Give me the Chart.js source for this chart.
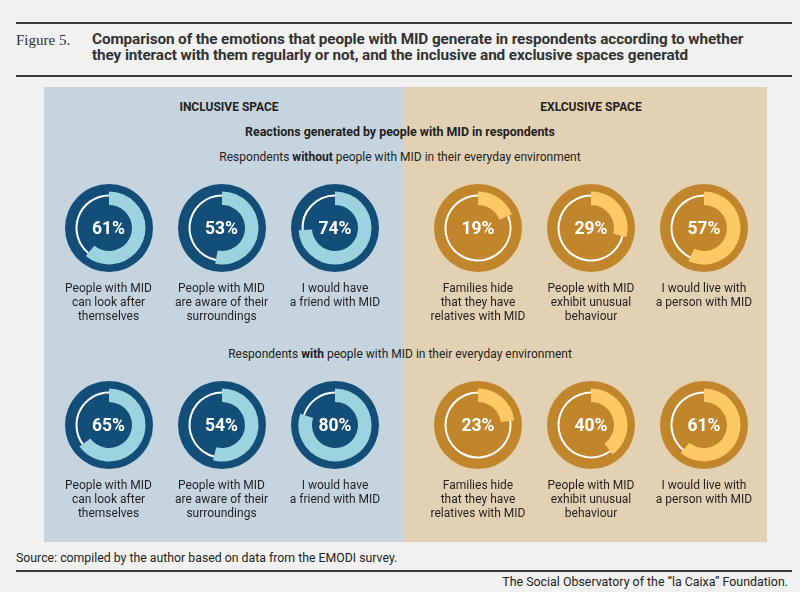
<!DOCTYPE html>
<html>
<head>
<meta charset="utf-8">
<script src="https://cdn.jsdelivr.net/npm/chart.js@4.4.1/dist/chart.umd.min.js"></script>
<style>
  body { margin: 0; background: #f1f1f1; }
  #page { position: relative; width: 800px; height: 592px; overflow: hidden; font-family: Roboto, sans-serif; color: #231f20; }
  .abs { position: absolute; white-space: nowrap; }
  .rule { position: absolute; left: 16px; width: 776px; height: 2px; background: #3a3a3a; }
  .panel { position: absolute; top: 87px; height: 455px; }
  .ctr { position: absolute; transform: translateX(-50%); text-align: center; white-space: nowrap; }
  .donut { position: absolute; width: 88px; height: 88px; border-radius: 50%; }
  .donut canvas { position: absolute; left: 0; top: 0; }
  .pct { position: absolute; left: 0; top: 0; width: 88px; height: 88px; line-height: 88px; text-align: center; color: #fff; font-weight: bold; font-size: 17.5px; }
  .lbl { font-size: 12px; line-height: 14px; }
</style>
</head>
<body>
<div id="page">
  <div class="rule" style="top:22px"></div>
  <div class="abs" style="left:16px;top:31px;font-family:'Liberation Serif',serif;font-size:15px;line-height:18px;color:#333">Figure 5.</div>
  <div class="abs" style="left:92px;top:31px;font-weight:bold;font-size:15.3px;line-height:16px;color:#333;letter-spacing:-0.1px">Comparison of the emotions that people with MID generate in respondents according to whether<br>they interact with them regularly or not, and the inclusive and exclusive spaces generatd</div>
  <div class="rule" style="top:75px"></div>

  <div class="panel" style="left:44px;width:359px;background:#c5d4df"></div>
  <div class="panel" style="left:403px;width:364px;background:#e3d1b3"></div>

  <div class="ctr" style="left:229px;top:99px;font-weight:bold;font-size:12px;line-height:16px">INCLUSIVE SPACE</div>
  <div class="ctr" style="left:591px;top:99px;font-weight:bold;font-size:12px;line-height:16px">EXLCUSIVE SPACE</div>
  <div class="ctr" style="left:400px;top:124px;font-weight:bold;font-size:12.4px;line-height:16px">Reactions generated by people with MID in respondents</div>
  <div class="ctr" style="left:400px;top:149px;font-size:12px;line-height:16px">Respondents <b>without</b> people with MID in their everyday environment</div>
  <div class="ctr" style="left:400px;top:346px;font-size:12px;line-height:16px">Respondents <b>with</b> people with MID in their everyday environment</div>

  <div id="donuts"></div>

  <div class="abs" style="left:16px;top:550px;font-size:12.3px;line-height:16px">Source: compiled by the author based on data from the EMODI survey.</div>
  <div class="rule" style="top:570px"></div>
  <div class="abs" style="right:12px;top:574px;font-size:12.4px;line-height:16px">The Social Observatory of the “la Caixa” Foundation.</div>
</div>

<script>
// statements shown under each donut
var inclusiveItems = ['People with MID\ncan look after\nthemselves', 'People with MID\nare aware of their\nsurroundings', 'I would have\na friend with MID'];
var exclusiveItems = ['Families hide\nthat they have\nrelatives with MID', 'People with MID\nexhibit unusual\nbehaviour', 'I would live with\na person with MID'];

// % of respondents agreeing
var withoutValues = [61, 53, 74, 19, 29, 57];
var withValues = [65, 54, 80, 23, 40, 61];

var items = inclusiveItems.concat(exclusiveItems);

var colX = [108.5, 221.5, 335, 478, 591, 704];
var rowY = [228, 425];

var blue = { dark: '#134e78', light: '#9dd3df' };
var gold = { dark: '#c1862b', light: '#fdc964' };

var holder = document.getElementById('donuts');
var clear = 'rgba(0,0,0,0)';

// ring: outer radius and inner radius in px (cutout is relative to radius)
function anillo(canvas, valor, colores, rOut, rIn) {
  return new Chart(canvas, {
    type: 'doughnut',
    data: {
      labels: ['yes', 'rest'],
      datasets: [{ data: [valor, 100 - valor], backgroundColor: colores, borderWidth: 0 }]
    },
    options: {
      responsive: false,
      animation: false,
      events: [],
      radius: rOut,
      cutout: (rIn / rOut * 100) + '%',
      layout: { padding: 0 },
      plugins: { legend: { display: false }, tooltip: { enabled: false } }
    }
  });
}

function crearDonut(valor, etiqueta, cx, cy, pal) {
  var div = document.createElement('div');
  div.className = 'donut';
  div.style.left = (cx - 44) + 'px';
  div.style.top = (cy - 44) + 'px';
  div.style.background = pal.dark;
  var c1 = document.createElement('canvas');
  c1.width = 88; c1.height = 88;
  var c2 = document.createElement('canvas');
  c2.width = 88; c2.height = 88;
  div.appendChild(c1);
  div.appendChild(c2);
  var pct = document.createElement('div');
  pct.className = 'pct';
  pct.textContent = valor + '%';
  div.appendChild(pct);
  holder.appendChild(div);

  anillo(c1, valor, [pal.light, clear], 36.5, 23);
  anillo(c2, valor, [clear, '#ffffff'], 33.5, 31.5);

  var lbl = document.createElement('div');
  lbl.className = 'ctr lbl';
  lbl.style.left = cx + 'px';
  lbl.style.top = (cy + 53) + 'px';
  lbl.innerHTML = etiqueta.split('\n').join('<br>');
  document.getElementById('page').appendChild(lbl);
}

for (var i = 0; i < 6; i++) {
  var pal = i < 3 ? blue : gold;
  crearDonut(withoutValues[i], items[i], colX[i], rowY[0], pal);
  crearDonut(withValues[i], items[i], colX[i], rowY[1], pal);
}
</script>
</body>
</html>
